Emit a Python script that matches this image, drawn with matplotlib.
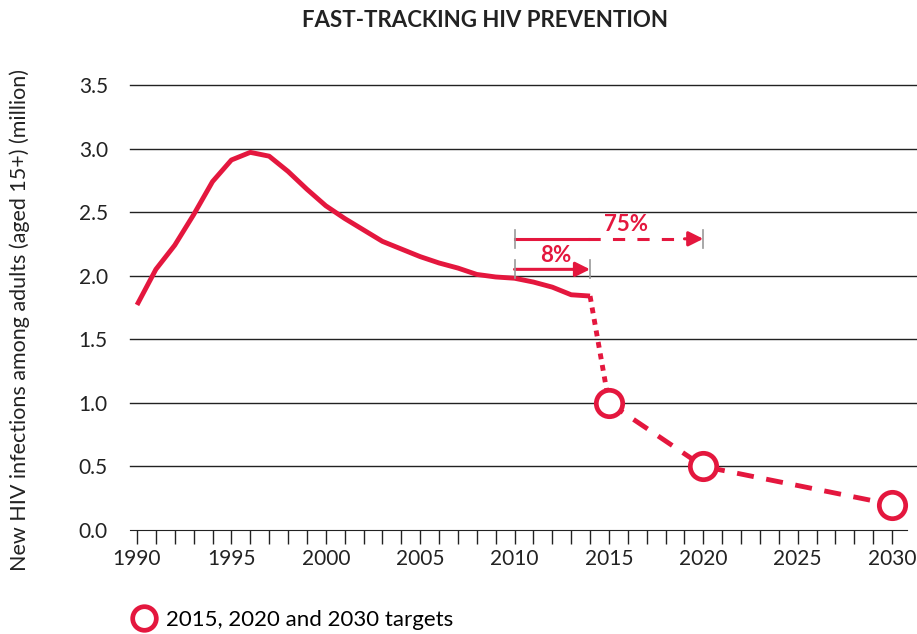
import matplotlib.pyplot as plt
from matplotlib.lines import Line2D

plt.rcParams['font.family'] = ['Lato', 'DejaVu Sans']

RED = '#e4173e'

# historical estimates (million)
years = list(range(1990, 2015))
infections = [1.77, 2.05, 2.24, 2.48, 2.74, 2.91, 2.97, 2.94, 2.82, 2.68,
              2.55, 2.45, 2.36, 2.27, 2.21, 2.15, 2.10, 2.06, 2.01, 1.99,
              1.98, 1.95, 1.91, 1.85, 1.84]

# targets
target_years = [2015, 2020, 2030]
target_values = [1.0, 0.5, 0.2]

# reduction arrows: (label, start, end, height)
arrow_8 = ('8%', 2010, 2014, 2.05)
arrow_75 = ('75%', 2010, 2020, 2.29)

fig = plt.figure(figsize=(9.17, 6.34), dpi=100)
ax = fig.add_axes([0.1418, 0.164, 0.8582, 0.702])

for y in [0.5, 1.0, 1.5, 2.0, 2.5, 3.0, 3.5]:
    ax.axhline(y, color='#222222', lw=1.0, zorder=1, clip_on=False)

ax.plot(years, infections, color=RED, lw=3.5, solid_capstyle='butt', zorder=3)
ax.plot([years[-1], target_years[0]], [infections[-1], target_values[0]],
        color=RED, lw=3.5, dashes=(1.2, 1.2), zorder=3)
ax.plot(target_years, target_values, color=RED, lw=3.5, dashes=(3.5, 2.6), zorder=3)
ax.plot(target_years, target_values, 'o', ms=19, mfc='white', mec=RED,
        mew=3.4, zorder=4, clip_on=False)

# 8% arrow
lab, x0, x1, h = arrow_8
ax.annotate('', xy=(x1, h), xytext=(x0, h),
            arrowprops=dict(arrowstyle='-|>', color=RED, lw=2.2, mutation_scale=22,
                            shrinkA=0, shrinkB=0), zorder=5)
for x in (x0, x1):
    ax.plot([x, x], [h - 0.07, h + 0.07], color='#999999', lw=1.2, zorder=5)
ax.text((x0 + x1) / 2 + 0.2, h + 0.025, lab, color=RED, fontsize=16,
        fontweight='bold', ha='center', va='bottom')

# 75% arrow (solid start, dashed rest)
lab, x0, x1, h = arrow_75
ax.plot([x0, x0 + 3.9], [h, h], color=RED, lw=2.2, zorder=5)
ax.plot([x0 + 3.9, x1 - 0.9], [h, h], color=RED, lw=2.2, dashes=(4, 4), zorder=5)
ax.annotate('', xy=(x1, h), xytext=(x1 - 1.0, h),
            arrowprops=dict(arrowstyle='-|>', color=RED, lw=2.2, mutation_scale=22,
                            shrinkA=0, shrinkB=0), zorder=5)
for x in (x0, x1):
    ax.plot([x, x], [h - 0.07, h + 0.07], color='#999999', lw=1.2, zorder=5)
ax.text(2015.9, h + 0.03, lab, color=RED, fontsize=16, fontweight='bold',
        ha='center', va='bottom')

ax.set_xlim(1989.63, 2031.32)
ax.set_ylim(0, 3.5)
ax.set_xticks(range(1990, 2031))
ax.set_xticklabels([str(y) if y % 5 == 0 else '' for y in range(1990, 2031)])
ax.set_yticks([0, 0.5, 1.0, 1.5, 2.0, 2.5, 3.0, 3.5])
ax.set_yticklabels(['0.0', '0.5', '1.0', '1.5', '2.0', '2.5', '3.0', '3.5'])
ax.tick_params(axis='x', length=10, width=1, color='#222222', labelsize=15,
               pad=4, labelcolor='#222222')
ax.tick_params(axis='y', length=0, labelsize=15, pad=16, labelcolor='#222222')

for s in ['top', 'right', 'left']:
    ax.spines[s].set_visible(False)
ax.spines['bottom'].set_color('#222222')
ax.spines['bottom'].set_bounds(1989.63, 2030.8)

fig.text(0.021, 0.495, 'New HIV infections among adults (aged 15+) (million)',
         fontsize=15.5, color='#222222', rotation=90, ha='center', va='center')

fig.text(0.529, 0.968, 'FAST-TRACKING HIV PREVENTION', fontsize=16,
         fontweight='bold', ha='center', va='center', color='#222222')

handle = Line2D([], [], ls='none', marker='o', ms=17, mfc='white', mec=RED,
                mew=3.4)
fig.legend([handle], ['2015, 2020 and 2030 targets'], loc='center left',
           bbox_to_anchor=(0.13, 0.022), frameon=False, fontsize=16,
           handletextpad=0.4, borderpad=0, handlelength=1.2)

fig.savefig('out.png', dpi=100)
